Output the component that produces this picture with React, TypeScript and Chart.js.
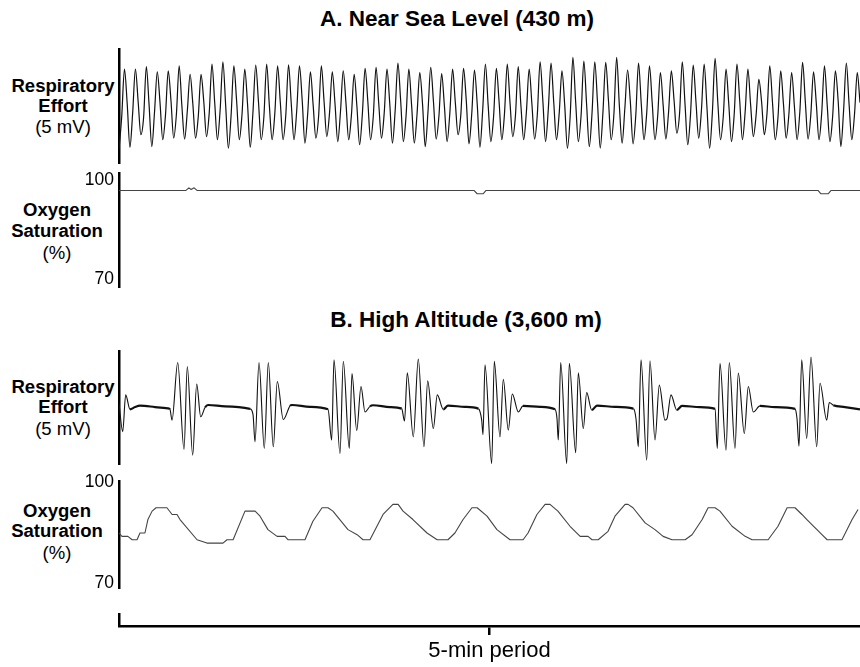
import React, { useEffect, useRef } from "react";
import { Chart, registerables } from "chart.js";

Chart.register(...registerables);

const FONT = '"Liberation Sans", Arial, Helvetica, sans-serif';
const WIDTH = 860;
const PLOT_LEFT = 119;
const PERIOD_SECONDS = 300;
const PERIOD_LABEL = "5-min period";

const TITLE_A = "A. Near Sea Level (430 m)";
const TITLE_B = "B. High Altitude (3,600 m)";
const RESP_LABEL = ["Respiratory", "Effort", "(5 mV)"];
const SPO2_LABEL = ["Oxygen", "Saturation", "(%)"];
const SPO2_TICKS = [70, 100];

// ---- A. Near sea level: respiratory effort (mV), one entry per breath ----
const RESP_A_TROUGHS = [
  -1.92, -1.81, -1.26, -1.78, -1.48, -1.41, -1.45, -1.41, -1.34, -1.48, -1.85, -1.48, -1.81, -1.48, -1.48, -1.48, -1.48, -1.63, -1.41, -1.34, -1.56, -1.48,
  -1.7, -1.48, -1.41, -1.63, -1.56, -1.63, -1.78, -1.45, -1.56, -1.26, -1.66, -1.81, -1.56, -1.48, -1.34, -1.48, -1.45, -1.56, -1.48, -1.85, -1.56, -1.78, -1.85,
  -1.48, -1.63, -1.66, -1.48, -1.48, -1.45, -1.19, -1.7, -1.41, -1.85, -1.48, -1.56, -1.48, -1.34, -1.26, -1.48, -1.41, -1.48, -1.45, -1.48, -1.56, -1.78, -1.48,
];
const RESP_A_SHOULDERS = [
  -0.45, -0.3, -0.5, -0.25, -0.4, -0.35, -0.2, -0.45, -0.3, -0.15, -0.4, -0.35, -0.25, -0.45, -0.3, -0.4, -0.2, -0.35, -0.45, -0.3, -0.25, -0.4,
  -0.35, -0.45, -0.3, -0.2, -0.4, -0.35, -0.25, -0.45, -0.3, -0.4, -0.35, -0.2, -0.45, -0.3, -0.4, -0.25, -0.35, -0.15, -0.3, -0.45, -0.4, -0.3, -0.25,
  -0.35, -0.1, -0.4, -0.3, -0.45, -0.25, -0.35, -0.4, -0.2, -0.3, -0.45, -0.35, -0.25, -0.4, -0.3, -0.5, -0.35, -0.25, -0.4, -0.3, -0.45, -0.2, -0.35,
];
const RESP_A_PEAKS = [
  1.62, 1.62, 1.73, 1.5, 1.54, 1.76, 1.39, 1.39, 1.84, 1.94, 1.76, 1.62, 1.79, 1.84, 1.76, 1.8, 1.76, 1.5, 1.76, 1.5, 1.54, 1.39,
  1.65, 1.69, 1.62, 1.88, 1.62, 1.47, 1.69, 1.42, 1.62, 1.65, 1.58, 1.84, 1.65, 1.84, 1.73, 1.62, 1.94, 1.88, 1.54, 2.13, 1.97, 1.94, 1.91,
  2.13, 1.58, 1.88, 1.76, 1.47, 1.54, 1.94, 1.79, 1.84, 2.09, 1.62, 1.84, 1.62, 1.17, 1.76, 1.54, 1.47, 1.91, 1.5, 1.76, 1.54, 1.88, 1.47,
];
const RESP_A_FALLS = [
  0.1, 0.2, 0.05, 0.15, 0.25, 0.0, 0.1, 0.2, 0.15, 0.05, 0.25, 0.1, 0.2, 0.0, 0.15, 0.1, 0.25, 0.05, 0.2, 0.1, 0.15, 0.0,
  0.2, 0.1, 0.15, 0.25, 0.05, 0.1, 0.2, 0.0, 0.15, 0.25, 0.1, 0.05, 0.2, 0.15, 0.0, 0.1, 0.25, 0.15, 0.05, 0.2, 0.1, 0.15, 0.25,
  0.0, 0.2, 0.1, 0.15, 0.05, 0.25, 0.1, 0.2, 0.0, 0.15, 0.1, 0.25, 0.05, 0.2, 0.15, 0.1, 0.0, 0.2, 0.15, 0.05, 0.25, 0.1, 0.15,
];

// ---- A. Near sea level: oxygen saturation (%) ----
const SPO2_A_TIMES = [0, 27.1, 28.3, 29.2, 30.4, 31.6, 143.7, 145.0, 147.4, 148.6, 283.0, 284.2, 287.1, 288.3, 300];
const SPO2_A_VALUES = [97, 97, 97.8, 97.3, 97.8, 97, 97, 96, 96, 97, 97, 96, 96, 97, 97];

// ---- B. High altitude: respiratory effort (mV), periodic breathing ----
const RESP_B_TIMES = [
  0, 1.5, 2.71, 4.45, 6.48, 8.5, 14.57, 19.84, 20.65,
  21.46, 23.77, 26.32, 27.65, 29.84, 31.46, 33.08, 34.82, 36.03, 42.92, 53.04,
  54.25, 55.06, 56.68, 58.83, 60.45, 62.47, 64.09, 66.52, 69.23, 70.04, 77.33, 84.62,
  86.11, 87.04, 89.47, 90.81, 93.24, 94.33, 96.24, 97.98, 99.6, 101.62, 102.83, 109.72, 114.45,
  115.59, 116.72, 119.15, 121.17, 123.48, 124.98, 127.25, 128.87, 131.3, 133.2, 140.08, 145.47,
  146.84, 147.37, 148.18, 150.89, 151.94, 154.25, 155.59, 157.61, 159.23, 161.66, 163.56, 170.45, 176.52,
  177.33, 177.85, 178.83, 181.26, 182.31, 184.9, 185.95, 187.98, 189.35, 191.38, 193.52, 200.81, 208.22,
  209.31, 210.24, 211.34, 213.64, 214.98, 217.01, 218.75, 221.05, 221.86, 223.48, 225.79, 227.94, 235.22, 241.3,
  242.23, 243.32, 245.75, 247.09, 249.39, 250.73, 253.16, 254.78, 256.8, 259.52, 265.59, 273.69,
  274.5, 275.3, 276.4, 278.42, 280.16, 282.47, 283.81, 286.52, 287.57, 289.19, 293.93, 300,
];
const RESP_B_VALUES = [
  0.19, -1.07, 0.56, -0.08, 0.02, 0.08, 0.02, -0.04, -0.08,
  -0.56, 1.99, -1.86, 1.81, -2.11, 1.04, -0.41, 0.0, 0.11, 0.05, -0.06,
  -0.3, -1.52, 1.99, -1.81, 1.99, -1.74, 1.15, -0.53, 0.07, 0.11, 0.03, -0.08,
  -1.44, 2.11, -2.04, 2.04, -1.81, 1.5, -1.02, 0.93, -0.2, 0.05, 0.1, 0.02, -0.05,
  -0.6, 1.54, -1.3, 2.14, -1.74, 1.18, -0.93, 0.56, -0.08, 0.08, 0.03, -0.05,
  -0.56, -1.2, 1.89, -2.48, 2.04, -1.3, 1.25, -1.0, 0.6, -0.2, 0.07, 0.03, -0.08,
  -0.5, -1.44, 1.99, -2.48, 1.96, -2.0, 1.54, -0.93, 0.66, -0.11, 0.08, 0.03, -0.05,
  -0.5, -1.74, 2.11, -2.33, 2.07, -1.44, 0.99, -0.56, -0.5, 0.56, -0.11, 0.07, 0.02, -0.06,
  -1.81, 1.96, -1.89, 1.99, -1.81, 1.52, -1.15, 0.93, -0.2, 0.07, 0.02, -0.06,
  -0.5, -1.71, 2.11, -1.37, 2.23, -1.74, 1.07, -0.56, 0.22, 0.1, 0.02, -0.08,
];

// ---- B. High altitude: oxygen saturation (%) ----
const SPO2_B_TIMES = [
  0, 1.2, 3.6, 5.3, 7.3, 8.5, 10.5, 11.7, 13.4, 15.0, 19.4, 21.5, 23.5, 24.7, 31.6, 35.6, 42.1, 43.7, 46.2, 51.0,
  55.1, 57.1, 60.3, 64.0, 67.2, 68.4, 75.3, 78.5, 82.2, 84.6, 86.6, 92.7, 96.4, 98.8, 101.6, 103.7, 106.9, 110.9, 113.0, 115.0,
  119.0, 124.7, 128.8, 133.2, 136.0, 139.3, 142.9, 145.0, 149.0, 153.0, 158.3, 163.6, 165.6, 169.2, 172.5, 174.5, 177.7, 182.6, 186.7, 189.9,
  191.5, 194.0, 198.0, 200.8, 204.9, 206.1, 208.1, 213.0, 217.0, 220.3, 223.9, 229.2, 232.0, 236.1, 238.5, 241.3, 243.3, 248.2, 253.5, 256.3,
  262.8, 266.8, 270.5, 273.7, 276.5, 278.5, 284.6, 286.7, 292.7, 296.8, 299.2,
];
const SPO2_B_VALUES = [
  85, 84, 84, 83, 83, 85, 85, 89, 91.5, 92.5, 92.5, 90.5, 90.5, 89, 83, 82, 82, 83, 83, 91.5,
  91.5, 90, 86, 84, 84, 83, 83, 88.5, 92.5, 92.5, 91.5, 86, 84.5, 83, 83, 86, 90.5, 93.5, 93.5, 91.5,
  89, 85, 83, 83, 85, 89, 92.5, 92.5, 90, 86, 83, 83, 85, 90.5, 93.5, 93.5, 91.5, 87, 84, 84,
  83, 83, 85.5, 90, 93.5, 93.5, 92.5, 88, 86, 84, 83, 83, 84.5, 89, 92.5, 92.5, 91.5, 87, 84, 83,
  83, 87, 92.5, 92.5, 90.5, 89, 84.5, 83, 83, 89, 92,
];

type Pt = { x: number; y: number };

const zip = (t: number[], v: number[]): Pt[] => {
  const n = Math.min(t.length, v.length);
  const out: Pt[] = [];
  for (let i = 0; i < n; i++) out.push({ x: t[i], y: v[i] });
  return out;
};

function buildRespA(): Pt[] {
  const n = Math.min(RESP_A_TROUGHS.length, RESP_A_SHOULDERS.length, RESP_A_PEAKS.length, RESP_A_FALLS.length);
  const vals: number[] = [];
  for (let k = 0; k < n; k++) {
    vals.push(RESP_A_TROUGHS[k], RESP_A_SHOULDERS[k], RESP_A_PEAKS[k], RESP_A_FALLS[k]);
  }
  // evenly sampled recording over the 5-min window
  const dt = PERIOD_SECONDS / (vals.length - 1);
  return vals.map((y, i) => ({ x: i * dt, y }));
}

const PAD = 14;

type PanelProps = {
  axisTop: number;
  axisHeight: number;
  yMin: number;
  yMax: number;
  tickValues: number[];
  data: Pt[];
  color: string;
  lineWidth: number;
  smooth?: boolean;
  flatLimit?: number;
};

function TracePanel(p: PanelProps) {
  const ref = useRef<HTMLCanvasElement | null>(null);
  useEffect(() => {
    if (!ref.current) return;
    const ds: any = {
      data: p.data,
      borderColor: p.color,
      borderWidth: p.lineWidth,
      pointRadius: 0,
      fill: false,
      tension: p.smooth ? 0.4 : 0,
      cubicInterpolationMode: p.smooth ? "monotone" : "default",
      borderJoinStyle: "round",
    };
    if (p.flatLimit) {
      const lim = p.flatLimit;
      ds.segment = {
        borderWidth: (c: any) =>
          Math.abs(c.p0.parsed.y) < lim && Math.abs(c.p1.parsed.y) < lim ? 2.2 : p.lineWidth,
      };
    }
    const chart = new Chart(ref.current, {
      type: "line",
      data: { datasets: [ds] },
      options: {
        responsive: false,
        animation: false,
        events: [],
        layout: { padding: { top: PAD, bottom: PAD, left: 0, right: 0 } },
        plugins: { legend: { display: false }, tooltip: { enabled: false } },
        scales: {
          x: { type: "linear", min: 0, max: PERIOD_SECONDS, display: false },
          y: {
            type: "linear",
            position: "left",
            min: p.yMin,
            max: p.yMax,
            grid: { display: false, drawTicks: false },
            border: { display: true, color: "#000", width: 2.5 },
            ticks: {
              display: p.tickValues.length > 0,
              padding: 5,
              color: "#000",
              font: { family: FONT, size: 17.5 },
            },
            afterBuildTicks: (s: any) => {
              s.ticks = p.tickValues.map((v) => ({ value: v }));
            },
            afterFit: (s: any) => {
              s.width = PLOT_LEFT;
              s.paddingTop = 0;
              s.paddingBottom = 0;
            },
          },
        },
      } as any,
    });
    return () => chart.destroy();
  }, []);
  const h = p.axisHeight + 2 * PAD;
  return (
    <canvas
      ref={ref}
      width={WIDTH}
      height={h}
      style={{ position: "absolute", left: 0, top: p.axisTop - PAD, width: WIDTH, height: h }}
    />
  );
}

function PeriodBracket() {
  const ref = useRef<HTMLCanvasElement | null>(null);
  useEffect(() => {
    if (!ref.current) return;
    const chart = new Chart(ref.current, {
      type: "line",
      data: { datasets: [] },
      options: {
        responsive: false,
        animation: false,
        events: [],
        layout: { padding: { top: 12, bottom: 0, left: 0, right: 0 } },
        plugins: { legend: { display: false }, tooltip: { enabled: false } },
        scales: {
          x: {
            type: "linear",
            position: "bottom",
            min: 0,
            max: PERIOD_SECONDS,
            grid: { display: true, drawOnChartArea: false, drawTicks: true, tickLength: 9, lineWidth: 2.5, color: "#000" },
            border: { display: true, color: "#000", width: 2.5 },
            ticks: {
              display: true,
              padding: 3,
              color: "#000",
              maxRotation: 0,
              autoSkip: false,
              font: { family: FONT, size: 22 },
              callback: () => PERIOD_LABEL,
            },
            afterBuildTicks: (s: any) => {
              s.ticks = [{ value: PERIOD_SECONDS / 2 }];
            },
            afterFit: (s: any) => {
              s.height = 41;
              s.paddingLeft = 0;
              s.paddingRight = 0;
            },
          },
          y: {
            type: "linear",
            min: 0,
            max: 1,
            grid: { display: false, drawTicks: false },
            border: { display: true, color: "#000", width: 2.5 },
            ticks: { display: false },
            afterBuildTicks: (s: any) => {
              s.ticks = [];
            },
            afterFit: (s: any) => {
              s.width = PLOT_LEFT;
              s.paddingTop = 0;
              s.paddingBottom = 0;
            },
          },
        },
      } as any,
    });
    return () => chart.destroy();
  }, []);
  const top = 602;
  const h = 667 - top;
  return (
    <canvas ref={ref} width={WIDTH} height={h} style={{ position: "absolute", left: 0, top, width: WIDTH, height: h }} />
  );
}

function Txt(props: { x: number; y: number; size: number; bold?: boolean; sx?: number; children: React.ReactNode }) {
  const { x, y, size, bold, sx = 1, children } = props;
  return (
    <div
      style={{
        position: "absolute",
        left: x,
        top: y,
        transform: `translate(-50%, -50%) scaleX(${sx})`,
        fontFamily: FONT,
        fontSize: size,
        fontWeight: bold ? 700 : 400,
        lineHeight: 1,
        whiteSpace: "nowrap",
        color: "#000",
      }}
    >
      {children}
    </div>
  );
}

function SideLabels(props: { lines: string[]; cx: number; ys: number[] }) {
  const { lines, cx, ys } = props;
  return (
    <>
      {lines.map((t, i) => (
        <Txt key={t} x={cx} y={ys[i]} size={17.5} bold={i < 2} sx={1.06}>
          {t}
        </Txt>
      ))}
    </>
  );
}

export default function App() {
  const respA = buildRespA();
  const spo2A = zip(SPO2_A_TIMES, SPO2_A_VALUES);
  const respB = zip(RESP_B_TIMES, RESP_B_VALUES);
  const spo2B = zip(SPO2_B_TIMES, SPO2_B_VALUES);
  return (
    <div style={{ position: "absolute", left: 0, top: 0, width: WIDTH, height: 667, background: "#fff", overflow: "hidden" }}>
      <Txt x={457} y={19} size={22.5} bold>
        {TITLE_A}
      </Txt>
      <Txt x={466} y={320} size={22.5} bold>
        {TITLE_B}
      </Txt>

      <SideLabels lines={RESP_LABEL} cx={63} ys={[87, 107, 128]} />
      <SideLabels lines={SPO2_LABEL} cx={57} ys={[211, 232, 254]} />
      <SideLabels lines={RESP_LABEL} cx={63} ys={[388, 408, 430]} />
      <SideLabels lines={SPO2_LABEL} cx={57} ys={[512, 532, 554]} />

      <TracePanel axisTop={49} axisHeight={114} yMin={-2.5} yMax={2.5} tickValues={[]} data={respA} color="#111" lineWidth={1.2} smooth />
      <TracePanel axisTop={173} axisHeight={114} yMin={67.7} yMax={102.3} tickValues={SPO2_TICKS} data={spo2A} color="#444" lineWidth={1.1} />
      <TracePanel axisTop={351} axisHeight={113} yMin={-2.5} yMax={2.5} tickValues={[]} data={respB} color="#111" lineWidth={1.1} smooth flatLimit={0.15} />
      <TracePanel axisTop={481} axisHeight={107} yMin={68.66} yMax={100.45} tickValues={SPO2_TICKS} data={spo2B} color="#444" lineWidth={1.1} />
      <PeriodBracket />
    </div>
  );
}
